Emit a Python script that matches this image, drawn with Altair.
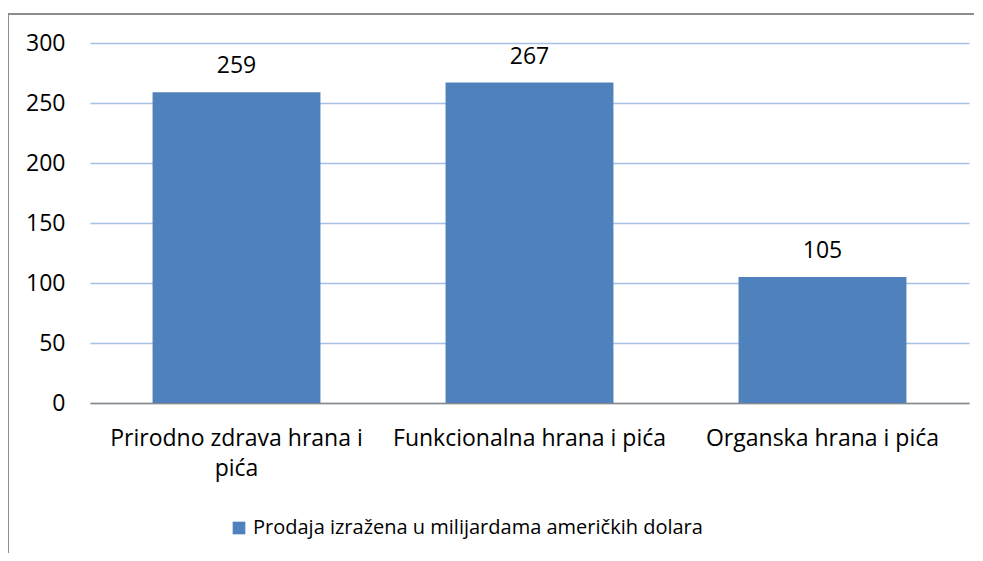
import altair as alt
import pandas as pd

categories = ["Prirodno zdrava hrana i pića", "Funkcionalna hrana i pića", "Organska hrana i pića"]
values = [259, 267, 105]
series_name = "Prodaja izražena u milijardama američkih dolara"

df = pd.DataFrame({"cat": categories, "val": values, "series": [series_name] * 3})

FONT = "Open Sans"
FS = 23
LFS = 20

x_enc = alt.X(
    "cat:N", sort=categories, title=None,
    scale=alt.Scale(paddingInner=0.427, paddingOuter=0.2135),
    axis=alt.Axis(
        labelAngle=0, labelFontSize=FS, labelFont=FONT, labelColor="#000000",
        labelPadding=24, ticks=False, domain=True, domainColor="#898989", domainWidth=1.5,
        labelLineHeight=30, labelLimit=400,
        labelExpr="datum.label == 'Prirodno zdrava hrana i pića' ? ['Prirodno zdrava hrana i', 'pića'] : datum.label",
    ),
)
y_enc = alt.Y(
    "val:Q", title=None,
    scale=alt.Scale(domain=[0, 300]),
    axis=alt.Axis(
        values=[0, 50, 100, 150, 200, 250, 300], labelFontSize=FS, labelFont=FONT,
        labelColor="#000000", labelPadding=25, ticks=False, domain=False,
        grid=True, gridColor="#A7C0E5", gridWidth=1.5,
    ),
)

bars = alt.Chart(df).mark_bar(color="#4F81BD").encode(
    x=x_enc, y=y_enc,
    color=alt.Color(
        "series:N", scale=alt.Scale(range=["#4F81BD"]),
        legend=alt.Legend(
            title=None, orient="none", legendX=139, legendY=475,
            symbolType="square", symbolSize=160, symbolStrokeWidth=0,
            labelFontSize=LFS, labelFont=FONT, labelColor="#000000", labelLimit=800,
            labelOffset=4, symbolOpacity=1,
        ),
    ),
)

labels = alt.Chart(df).mark_text(
    baseline="alphabetic", dy=-19, fontSize=FS, font=FONT, color="#000000"
).encode(x=alt.X("cat:N", sort=categories), y="val:Q", text="val:Q")

frame = pd.DataFrame({"a": [0]})
top_line = alt.Chart(frame).mark_rect(color="#8c8c8c", strokeWidth=0, clip=False).encode(
    x=alt.value(-82), x2=alt.value(884), y=alt.value(-30), y2=alt.value(-28)
)
left_line = alt.Chart(frame).mark_rule(color="#8c8c8c", strokeWidth=2, clip=False).encode(
    x=alt.value(-82), x2=alt.value(-82), y=alt.value(-29), y2=alt.value(700)
)

chart = alt.layer(bars, labels, top_line, left_line).properties(
    width=879, height=360,
    autosize=alt.AutoSizeParams(type="none"),
    padding={"left": 82, "top": 35, "right": 6, "bottom": 150},
).configure_view(stroke=None)

chart.save("out.html", embed_options={"renderer": "svg", "actions": False})
